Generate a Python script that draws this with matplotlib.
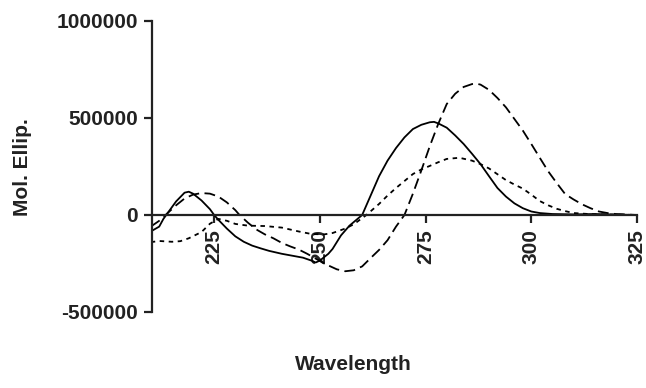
import numpy as np
import matplotlib
matplotlib.use("Agg")
import matplotlib.pyplot as plt

plt.rcParams['font.family'] = ['Liberation Sans', 'DejaVu Sans']
plt.rcParams['font.weight'] = 'bold'

# solid trace
wl_a = [210, 212, 213, 214, 216, 218, 219, 220, 222, 224, 225, 226, 228, 230, 232, 234,
        236, 238, 241, 244, 246, 248, 249, 250, 252, 253, 255, 257, 260, 262, 264, 266,
        268, 270, 272, 274, 276, 277, 278, 280, 282, 284, 286, 288, 290, 292, 294, 296,
        298, 300, 302, 305, 310, 315, 320, 325]
mol_a = [-85000, -60000, -20000, 10000, 70000, 115000, 120000, 110000, 75000, 30000, 0,
         -25000, -70000, -110000, -138000, -158000, -172000, -185000, -200000, -212000,
         -220000, -235000, -245000, -235000, -200000, -175000, -105000, -55000, 0, 100000,
         200000, 280000, 345000, 400000, 443000, 465000, 478000, 480000, 472000, 450000,
         410000, 366000, 315000, 262000, 200000, 139000, 95000, 60000, 35000, 18000, 10000,
         5000, 3000, 5000, 2000, 0]

# long dashed trace
wl_b = [210, 212, 214, 216, 218, 220, 222, 224, 226, 228, 230, 231, 233, 235, 237, 239,
        241, 243, 245, 247, 250, 252, 254, 256, 258, 260, 262, 264, 266, 268, 270, 272,
        274, 276, 278, 280, 282, 284, 286, 287, 288, 290, 292, 294, 296, 298, 300, 302,
        304, 306, 308, 310, 312, 314, 316, 318, 320, 325]
mol_b = [-60000, -30000, 10000, 50000, 85000, 105000, 113000, 110000, 95000, 65000, 25000,
         0, -40000, -75000, -100000, -120000, -144000, -162000, -178000, -200000, -237000,
         -260000, -280000, -290000, -285000, -265000, -222000, -180000, -130000, -60000, 0,
         110000, 230000, 355000, 470000, 572000, 625000, 660000, 675000, 677000, 672000,
         645000, 603000, 555000, 495000, 435000, 366000, 295000, 225000, 165000, 108000,
         80000, 55000, 35000, 18000, 10000, 5000, 0]

# short dashed trace
wl_c = [210, 212, 215, 217, 219, 222, 224, 226, 228, 230, 233, 237, 241, 245, 248, 251,
        253, 256, 258, 261, 264, 266, 268, 270, 272, 274, 276, 278, 280, 283, 286, 288,
        290, 292, 294, 296, 298, 300, 302, 304, 306, 308, 310, 315, 320, 325]
mol_c = [-140000, -134000, -138000, -135000, -120000, -88000, -45000, -20000, -30000,
         -46000, -55000, -57000, -65000, -85000, -98000, -100000, -93000, -70000, -48000, 0,
         57000, 100000, 139000, 175000, 211000, 235000, 253000, 272000, 289000, 295000,
         280000, 262000, 240000, 210000, 180000, 157000, 136000, 105000, 72000, 50000,
         32000, 20000, 10000, 3000, 2000, 0]

x_ticks = [225, 250, 275, 300, 325]
y_ticks = [-500000, 0, 500000, 1000000]
y_labels = ['-500000', '0', '500000', '1000000']

fig = plt.figure(figsize=(6.46, 3.88), dpi=100)
ax = fig.add_axes([0.2353, 0.1959, 0.7508, 0.75])

ax.plot(wl_a, mol_a, color='black', lw=1.3)
ax.plot(wl_b, mol_b, color='black', lw=1.3, dashes=(6, 3))
ax.plot(wl_c, mol_c, color='black', lw=1.3, dashes=(2.5, 2.5))

ax.set_xlim(210.3, 325)
ax.set_ylim(-500000, 1000000)

ax.spines['top'].set_visible(False)
ax.spines['right'].set_visible(False)
ax.spines['bottom'].set_position(('data', 0))
for s in ['left', 'bottom']:
    ax.spines[s].set_linewidth(1.6)
    ax.spines[s].set_color('#222222')

ax.set_xticks(x_ticks)
ax.set_xticklabels([str(t) for t in x_ticks], rotation=90, fontsize=15, fontweight='bold')
ax.set_yticks(y_ticks)
ax.set_yticklabels(y_labels, fontsize=15, fontweight='bold')
ax.tick_params(axis='both', length=6, width=1.6, color='#222222', labelcolor='#222222')
ax.tick_params(axis='y', pad=4)
ax.tick_params(axis='x', pad=4)

fig.text(23 / 646, 1 - 167 / 388, 'Mol. Ellip.', rotation=90, ha='center', va='center',
         fontsize=15, fontweight='bold', color='#222222')
fig.text(353 / 646, 1 - 365 / 388, 'Wavelength', ha='center', va='center',
         fontsize=15, fontweight='bold', color='#222222')

fig.savefig('out.png', dpi=100)
